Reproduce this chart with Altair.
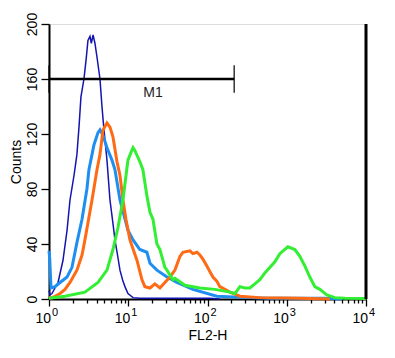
import altair as alt
import pandas as pd

# ---- data (FL2-H value, counts) ----
navy_x = [1.0, 1.03, 1.09, 1.19, 1.30, 1.50, 1.69, 1.84, 2.07, 2.25, 2.39, 2.53, 2.76, 2.95, 3.10,
          3.29, 3.42, 3.60, 3.80, 4.03, 4.40, 4.66, 4.94, 5.39, 5.88, 6.41, 6.80, 7.42, 7.86, 8.57,
          9.09, 9.91, 11.5, 14.0, 107, 143]
navy_y = [6, 3, 4, 8, 12, 28, 50, 72, 90, 105, 125, 147, 160, 175, 188,
          191, 186, 192, 186, 176, 160, 140, 123, 101, 72, 55, 43, 30, 21, 13,
          9, 4, 1, 0.5, 0.5, 0]

sky_x = [1.0, 1.02, 1.06, 1.19, 1.38, 1.69, 1.95, 2.25, 2.61, 3.01, 3.19, 3.69, 4.15, 4.40, 4.80,
         5.39, 6.23, 6.80, 7.86, 9.91, 11.5, 14.0, 17.2, 18.8, 23.0, 30.8, 41.1, 65.4, 131, 343,
         600, 3000, 5000]
sky_y = [35, 30, 8, 9, 12, 16, 23, 41, 58, 80, 94, 112, 121, 123, 119,
         110, 101, 94, 72, 50, 43, 36, 34, 26, 21, 16, 12, 7, 2, 1,
         0.5, 0.5, 0]

orange_x = [1.0, 1.09, 1.19, 1.38, 1.59, 1.84, 2.25, 2.61, 2.84, 3.49, 4.03, 4.40, 4.80, 5.39, 5.88,
            6.41, 7.20, 7.86, 8.57, 9.35, 10.5, 12.9, 14.9, 16.2, 18.8, 21.7, 25.1, 29.0, 33.6, 38.8,
            44.9, 49.0, 60.0, 65.4, 73.5, 80.2, 87.5, 98.2, 107, 117, 131, 143, 166, 192, 256,
            458, 1463, 3493]
orange_y = [1, 1, 2, 4, 7, 12, 21, 32, 43, 72, 94, 105, 123, 128, 125,
            118, 100, 90, 72, 58, 43, 28, 14, 9, 8, 11, 8, 12, 16, 21,
            31, 34, 35, 33, 34, 32, 29, 24, 20, 16, 13, 9, 7, 5, 2,
            1, 0.5, 0]

green_x = [1.0, 1.59, 2.84, 4.15, 5.39, 6.41, 7.42, 8.57, 9.91, 10.9, 11.5, 12.1, 13.0, 14.0, 15.3,
           17.2, 18.8, 20.5, 23.0, 25.1, 29.0, 30.8, 36.6, 38.8, 51.9, 80.2, 124, 192, 222, 256,
           296, 343, 396, 458, 530, 708, 818, 1033, 1265, 1463, 1691, 1955, 2261, 2615, 3204,
           4043, 5404, 9943]
green_y = [0.5, 2, 5, 12, 21, 36, 52, 72, 101, 107, 110, 108, 104, 100, 94,
           75, 63, 58, 40, 36, 23, 21, 14, 15, 10, 8, 7, 5, 4, 9,
           8, 8, 11, 14, 19, 27, 33, 38, 36, 31, 24, 16, 9, 7, 3,
           1, 0.5, 0.3]

# M1 marker
m1_start, m1_end, m1_level = 1, 217, 160
m1_low, m1_high = 150, 170
m1_label_x, m1_label_y = 20.5, 150

# axis ticks / labels
decades = [1, 10, 100, 1000, 10000]
exponents = ["0", "1", "2", "3", "4"]
x_tick_values = [m * d for d in [1, 10, 100, 1000] for m in range(1, 10)] + [10000]
y_tick_values = list(range(0, 201, 10))

FONT = "Liberation Sans"

x_scale = alt.Scale(type="log", domain=[1, 10000])
y_scale = alt.Scale(domain=[0, 200], nice=False)

x_axis = alt.Axis(
    values=x_tick_values, labels=False, grid=False,
    tickSize={"condition": {"test": "datum.value == 1 || datum.value == 10 || datum.value == 100 || datum.value == 1000 || datum.value == 10000", "value": 7}, "value": 4},
    tickWidth=1.3, tickColor="black", domainColor="black", domainWidth=2,
    title="FL2-H", titleFont=FONT, titleFontSize=14, titleFontWeight="normal",
    titleColor="black", titleY=40, titleBaseline="alphabetic",
)
y_axis = alt.Axis(
    values=y_tick_values, grid=False,
    labelExpr="datum.value % 40 == 0 ? datum.label : ''",
    tickSize={"condition": {"test": "datum.value % 40 == 0", "value": 8}, "value": 5},
    tickWidth=1.3, tickColor="black", domainColor="black", domainWidth=2,
    labelAngle=270, labelAlign="center", labelBaseline="alphabetic", labelPadding=5,
    labelFont=FONT, labelFontSize=14, labelColor="black",
    title="Counts", titleFont=FONT, titleFontSize=14, titleFontWeight="normal",
    titleColor="black", titleAngle=270, titleX=-28.5, titleBaseline="alphabetic",
)


def hist(xs, ys, color, width, first=False):
    df = pd.DataFrame({"fl2": xs, "counts": ys})
    if first:
        enc_x = alt.X("fl2:Q", scale=x_scale, axis=x_axis)
        enc_y = alt.Y("counts:Q", scale=y_scale, axis=y_axis)
    else:
        enc_x = alt.X("fl2:Q", scale=x_scale)
        enc_y = alt.Y("counts:Q", scale=y_scale)
    return alt.Chart(df).mark_line(color=color, strokeWidth=width, strokeJoin="miter").encode(
        x=enc_x, y=enc_y)


navy = hist(navy_x, navy_y, "#1414b0", 1.5, first=True)
sky = hist(sky_x, sky_y, "#1e8ff0", 3)
orange = hist(orange_x, orange_y, "#ff6a14", 3)
green = hist(green_x, green_y, "#33ee33", 3)

m1_df = pd.DataFrame({"fl2": [m1_start], "fl2_end": [m1_end], "counts": [m1_level]})
m1_line = alt.Chart(m1_df).mark_rule(color="black", strokeWidth=2.5).encode(
    x=alt.X("fl2:Q", scale=x_scale), x2="fl2_end:Q", y=alt.Y("counts:Q", scale=y_scale))

bars_df = pd.DataFrame({"fl2": [m1_start, m1_end], "counts": [m1_low, m1_low], "top": [m1_high, m1_high]})
m1_bars = alt.Chart(bars_df).mark_rule(color="black", strokeWidth=1.2).encode(
    x=alt.X("fl2:Q", scale=x_scale), y=alt.Y("counts:Q", scale=y_scale), y2="top:Q")

lab_df = pd.DataFrame({"fl2": [m1_label_x], "counts": [m1_label_y], "label": ["M1"]})
m1_text = alt.Chart(lab_df).mark_text(font=FONT, fontSize=14, color="#222222",
                                      align="center", baseline="middle").encode(
    x=alt.X("fl2:Q", scale=x_scale), y=alt.Y("counts:Q", scale=y_scale), text="label:N")

right_df = pd.DataFrame({"fl2": [10000]})
right_border = alt.Chart(right_df).mark_rule(color="black", strokeWidth=3).encode(
    x=alt.X("fl2:Q", scale=x_scale))

tick_df = pd.DataFrame({"fl2": decades, "base": ["10"] * 5, "exp": exponents})
base_text = alt.Chart(tick_df).mark_text(font=FONT, fontSize=14, color="black",
                                         align="right", baseline="alphabetic", dx=2, dy=24).encode(
    x=alt.X("fl2:Q", scale=x_scale), y=alt.datum(0), text="base:N")
exp_text = alt.Chart(tick_df).mark_text(font=FONT, fontSize=11, color="black",
                                        align="left", baseline="alphabetic", dx=3, dy=16.5).encode(
    x=alt.X("fl2:Q", scale=x_scale), y=alt.datum(0), text="exp:N")

chart = alt.layer(
    navy, sky, orange, green, m1_line, m1_bars, m1_text, right_border, base_text, exp_text
).properties(
    width=317, height=275,
    autosize=alt.AutoSizeParams(type="none"),
    padding={"left": 41, "top": 16, "right": 21, "bottom": 43},
).configure_view(stroke="black", strokeWidth=1.5).configure(background="white")

chart.save("out.html", embed_options={"renderer": "svg", "actions": False})
